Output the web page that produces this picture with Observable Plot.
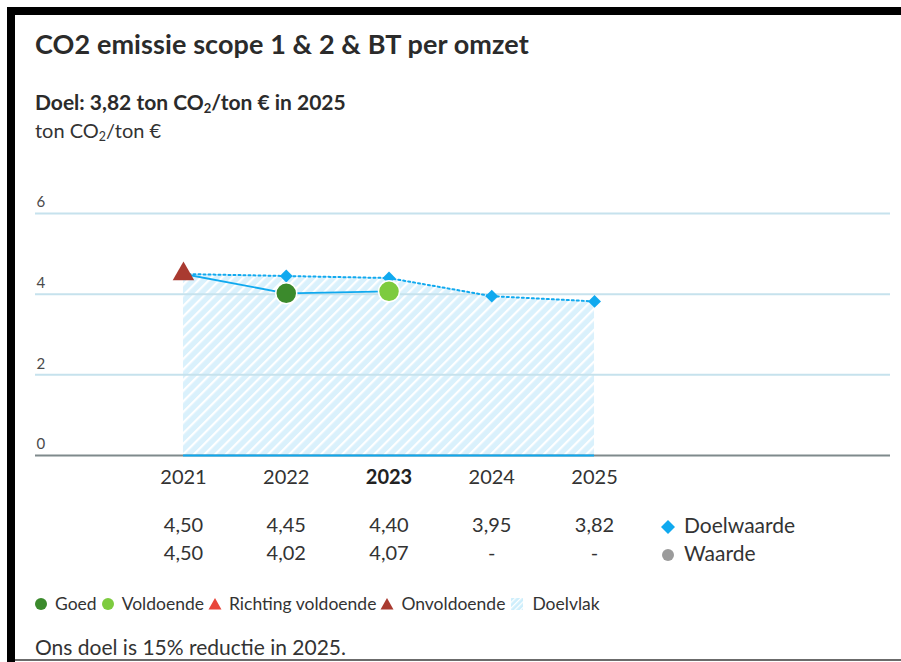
<!DOCTYPE html>
<html>
<head>
<meta charset="utf-8">
<script src="https://cdn.jsdelivr.net/npm/d3@7"></script>
<script src="https://cdn.jsdelivr.net/npm/@observablehq/plot@0.6"></script>
<style>
  body { margin: 0; background: #fff; }
  #page { position: relative; width: 901px; height: 662px; overflow: hidden; font-family: Lato, "Open Sans", sans-serif; color: #333; }
  .abs { position: absolute; white-space: nowrap; }
  sub { font-size: 0.62em; vertical-align: -0.25em; line-height: 0; }
  .lg { display: inline-flex; align-items: center; margin-right: 5px; }
  .lg svg { margin-right: 8px; }
</style>
</head>
<body>
<div id="page">
  <div class="abs" style="left:7px;top:7px;width:894px;height:8px;background:#000"></div>
  <div class="abs" style="left:7px;top:7px;width:8px;height:655px;background:#000"></div>
  <div class="abs" style="left:15px;top:659px;width:886px;height:2px;background:#6b6b6b"></div>

  <div class="abs" style="left:35px;top:28px;font-size:27px;line-height:32px;font-weight:bold;color:#2b2b2b;letter-spacing:0.1px">CO2 emissie scope 1 &amp; 2 &amp; BT per omzet</div>
  <div class="abs" style="left:35px;top:89px;font-size:21px;line-height:26px;font-weight:bold;color:#2b2b2b">Doel: 3,82 ton CO<sub>2</sub>/ton € in 2025</div>
  <div class="abs" style="left:35px;top:117px;font-size:20px;line-height:26px;color:#333">ton CO<sub>2</sub>/ton €</div>

  <div id="chart" class="abs" style="left:0;top:180px"></div>

  <div class="abs" style="left:661px;top:511px;font-size:21px;line-height:28px;color:#333">
    <div><svg width="14" height="14" style="vertical-align:-1px;margin-right:9px"><path d="M7 0 L14 7 L7 14 L0 7Z" fill="#10a9ef"/></svg>Doelwaarde</div>
    <div><svg width="14" height="14" style="vertical-align:-1px;margin-right:9px"><circle cx="7" cy="7" r="6" fill="#9b9b9b"/></svg>Waarde</div>
  </div>

  <div id="legend" class="abs" style="left:35px;top:592px;font-size:17.5px;line-height:24px;color:#333"></div>

  <div class="abs" style="left:35px;top:633px;font-size:21px;line-height:28px;color:#333">Ons doel is 15% reductie in 2025.</div>
</div>
<script>
// ---- data ----
const years = [2021, 2022, 2023, 2024, 2025];
const doelwaarde = [4.50, 4.45, 4.40, 3.95, 3.82];
const waarde = [4.50, 4.02, 4.07, null, null];
const status = ["Onvoldoende", "Goed", "Voldoende", null, null];
const yTicks = [0, 2, 4, 6];
const currentYear = 2023;
const statusNames = ["Goed", "Voldoende", "Richting voldoende", "Onvoldoende"];
const statusColors = ["#3b8a2c", "#7dcb3f", "#e8453a", "#a93a30"];
const statusShapes = ["circle", "circle", "triangle", "triangle"];

const blue = "#10a9ef";
const fmt = v => v == null ? "-" : v.toFixed(2).replace(".", ",");
const colorOf = s => statusColors[statusNames.indexOf(s)];
const shapeOf = s => statusShapes[statusNames.indexOf(s)];

const target = years.map((y, i) => ({year: y, value: doelwaarde[i]}));
const actual = years.map((y, i) => ({year: y, value: waarde[i], status: status[i]})).filter(d => d.value != null);
const rows = years.map((y, i) => ({year: y, doel: fmt(doelwaarde[i]), waarde: fmt(waarde[i])}));

const chart = Plot.plot({
  width: 901,
  height: 400,
  marginLeft: 35,
  marginRight: 11,
  marginTop: 33,
  marginBottom: 125,
  style: {fontFamily: "Lato, 'Open Sans', sans-serif", background: "transparent", overflow: "visible"},
  x: {type: "linear", domain: [2019.56, 2027.88], axis: null},
  y: {domain: [0, 6], axis: null},
  marks: [
    Plot.areaY(target, {x: "year", y: "value", fill: "url(#doelvlak)"}),
    Plot.gridY(yTicks.filter(t => t > 0), {stroke: "#c6e2ed", strokeOpacity: 1, strokeWidth: 2}),
    Plot.ruleY([0], {stroke: "#7f8a8c", strokeWidth: 2}),
    Plot.ruleY([0], {x1: years[0], x2: years[years.length - 1], stroke: blue, strokeWidth: 2}),
    Plot.axisY(yTicks, {label: null, tickSize: 0, tickPadding: -1, textAnchor: "start", dy: -11, fontSize: 15, fill: "#4a4a4a"}),
    Plot.line(target, {x: "year", y: "value", stroke: blue, strokeWidth: 2, strokeDasharray: "2,3"}),
    Plot.dot(target.slice(1), {x: "year", y: "value", symbol: "diamond2", r: 5.8, fill: blue}),
    Plot.line(actual, {x: "year", y: "value", stroke: blue, strokeWidth: 1.8}),
    Plot.dot(actual.filter(d => shapeOf(d.status) === "triangle"), {x: "year", y: "value", symbol: "triangle", r: 8, fill: d => colorOf(d.status)}),
    Plot.dot(actual.filter(d => shapeOf(d.status) === "circle"), {x: "year", y: "value", symbol: "circle", r: 10.5, fill: d => colorOf(d.status), stroke: "white", strokeWidth: 1.5}),
    Plot.text(rows.filter(d => d.year !== currentYear), {x: "year", y: () => 0, text: d => String(d.year), dy: 22, fontSize: 20, fill: "#333"}),
    Plot.text(rows.filter(d => d.year === currentYear), {x: "year", y: () => 0, text: d => String(d.year), dy: 22, fontSize: 20, fontWeight: "bold", fill: "#222"}),
    Plot.text(rows, {x: "year", y: () => 0, text: "doel", dy: 70, fontSize: 20, fill: "#333"}),
    Plot.text(rows, {x: "year", y: () => 0, text: "waarde", dy: 98, fontSize: 20, fill: "#333"})
  ]
});

// hatch pattern for the Doelvlak
const ns = "http://www.w3.org/2000/svg";
const defs = document.createElementNS(ns, "defs");
defs.innerHTML = `<pattern id="doelvlak" patternUnits="userSpaceOnUse" width="7.5" height="7.5" patternTransform="rotate(45)">
  <rect width="7.5" height="7.5" fill="#daf1fc"/><rect x="0" width="2.2" height="7.5" fill="#ffffff"/></pattern>`;
chart.insertBefore(defs, chart.firstChild);
document.getElementById("chart").appendChild(chart);

// status legend
const legend = document.getElementById("legend");
statusNames.forEach((name, i) => {
  const shape = statusShapes[i] === "circle"
    ? `<circle cx="6" cy="7" r="6" fill="${statusColors[i]}"/>`
    : `<path d="M6 1 L12.5 12.5 L-0.5 12.5Z" fill="${statusColors[i]}"/>`;
  legend.insertAdjacentHTML("beforeend", `<span class="lg"><svg width="12" height="14" style="overflow:visible">${shape}</svg>${name}</span>`);
});
legend.insertAdjacentHTML("beforeend", `<span class="lg"><svg width="14" height="14"><defs><pattern id="lgh" patternUnits="userSpaceOnUse" width="4" height="4" patternTransform="rotate(45)"><rect width="4" height="4" fill="#cdeefc"/><rect width="1.3" height="4" fill="#fff"/></pattern></defs><rect x="1" y="1" width="12" height="12" fill="url(#lgh)"/></svg>Doelvlak</span>`);
</script>
</body>
</html>
